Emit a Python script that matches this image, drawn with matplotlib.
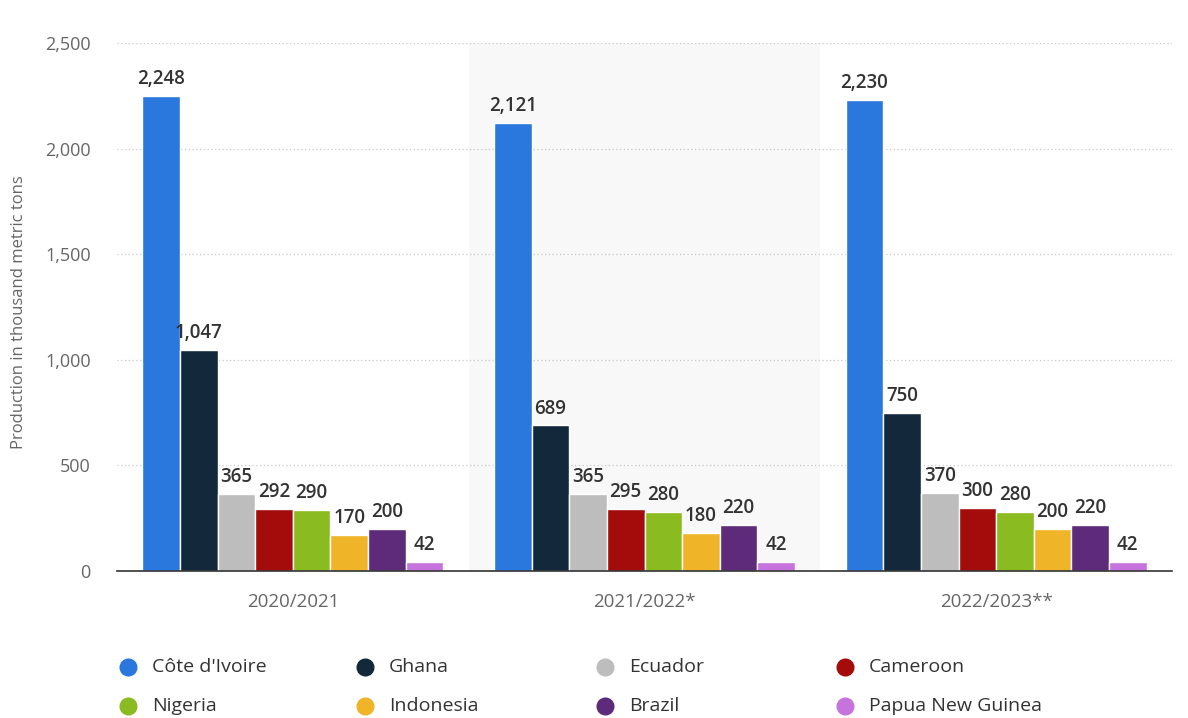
import matplotlib
matplotlib.use("Agg")
import matplotlib.pyplot as plt
from matplotlib.lines import Line2D
import numpy as np

plt.rcParams['font.family'] = ['Open Sans', 'DejaVu Sans']

seasons = ["2020/2021", "2021/2022*", "2022/2023**"]
countries = ["Côte d'Ivoire", "Ghana", "Ecuador", "Cameroon",
             "Nigeria", "Indonesia", "Brazil", "Papua New Guinea"]
cote_divoire = [2248, 2121, 2230]
ghana = [1047, 689, 750]
ecuador = [365, 365, 370]
cameroon = [292, 295, 300]
nigeria = [290, 280, 280]
indonesia = [170, 180, 200]
brazil = [200, 220, 220]
papua_new_guinea = [42, 42, 42]
series = [cote_divoire, ghana, ecuador, cameroon, nigeria, indonesia, brazil, papua_new_guinea]
colors = ["#2a77dd", "#14283c", "#bdbdbd", "#a40c0c",
          "#8abb21", "#efb427", "#5d2b79", "#c673de"]
yticks = [0, 500, 1000, 1500, 2000, 2500]

fig = plt.figure(figsize=(11.88, 7.18), dpi=100)
ax = fig.add_axes([117/1188, 1-571/718, (1172-117)/1188, (571-43)/718])

x = np.arange(len(seasons))
n = len(series)
group_w = 0.856
slot = group_w / n

ax.axvspan(0.5, 1.5, color="#f8f8f8", zorder=0, lw=0)

for i, (vals, c) in enumerate(zip(series, colors)):
    pos = x - group_w/2 + slot*(i+0.5)
    bars = ax.bar(pos, vals, width=slot, color=c, edgecolor="white", linewidth=1, zorder=3)
    for b, v in zip(bars, vals):
        ax.annotate(f"{v:,}", (b.get_x()+b.get_width()/2, v), xytext=(0, 5),
                    textcoords="offset points", ha="center", va="bottom",
                    fontsize=13.5, fontweight="semibold", color="#333333", zorder=4)

ax.set_xlim(-0.5, 2.5)
ax.set_ylim(0, 2500)
ax.set_yticks(yticks)
ax.set_yticklabels([f"{t:,}" for t in yticks])
ax.set_xticks(x)
ax.set_xticklabels(seasons)
ax.tick_params(axis='both', length=0, colors="#666666")
ax.tick_params(axis='y', pad=19, labelsize=13)
ax.tick_params(axis='x', pad=16, labelsize=13.5)
for t in yticks[1:]:
    ax.axhline(t, color="#c8c8c8", linestyle=(0, (1, 2)), linewidth=0.9, zorder=1)
for s in ["top", "right", "left"]:
    ax.spines[s].set_visible(False)
ax.spines["bottom"].set_color("#333333")
ax.spines["bottom"].set_linewidth(1.2)
ax.spines["bottom"].set_zorder(5)
ax.set_ylabel("Production in thousand metric tons", color="#666666", fontsize=12)
ax.yaxis.set_label_coords(-90/1055, 0.49)

# legend laid out in rows of four
col_x = [128, 365, 605, 845]
row_y = [667, 706]
for i, (name, c) in enumerate(zip(countries, colors)):
    cx = col_x[i % 4] / 1188
    cy = 1 - row_y[i // 4] / 718
    fig.add_artist(Line2D([cx], [cy], marker="o", markersize=12, color=c,
                          linestyle="none", transform=fig.transFigure))
    fig.text(cx + 24/1188, cy, name, fontsize=14, fontweight="medium",
             color="#333333", va="center", ha="left")

fig.savefig("out.png", dpi=100, facecolor="white")
